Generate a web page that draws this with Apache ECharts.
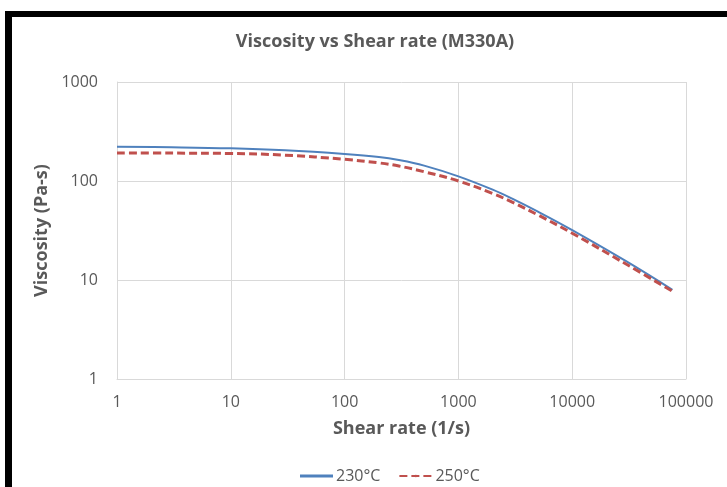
<!DOCTYPE html>
<html>
<head>
<meta charset="utf-8">
<script src="https://cdn.jsdelivr.net/npm/echarts@6/dist/echarts.min.js"></script>
<style>
	html, body { margin: 0; padding: 0; background: #fff; }
	#chart { width: 727px; height: 487px; }
</style>
</head>
<body>
<div id="chart"></div>
<script>
	/*数据*/
	var shearRate = [1, 3, 10, 30, 100, 200, 300, 500, 1000, 2000, 3000, 5000, 10000, 30000, 76000];
	var visc230 = [222, 219.3, 213.8, 204, 187.5, 175, 163, 143, 111.4, 81.7, 65.9, 49, 31.9, 15.4, 7.96];
	var visc250 = [192, 191.4, 189.7, 182.4, 165.6, 152.4, 141.6, 124, 100, 74.8, 60.8, 45.4, 29.7, 14.4, 7.7];
	var seriesNames = ['230°C', '250°C'];

	function pairs(xs, ys) {
		var out = [];
		for(var i = 0; i < xs.length; i++) {
			out.push([xs[i], ys[i]]);
		}
		return out;
	}

	var textColor = '#595959';
	var gridColor = '#d9d9d9';
	var fontFamily = '"Open Sans", "Noto Sans", sans-serif';

	var chart = echarts.init(document.getElementById('chart'));
	var option = {
		backgroundColor: '#fff',
		animation: false,
		title: {
			text: 'Viscosity vs Shear rate (M330A)',
			left: 370,
			textAlign: 'center',
			top: 28,
			textStyle: {
				color: textColor,
				fontSize: 18,
				fontWeight: 'bold',
				fontFamily: fontFamily
			}
		},
		legend: {
			top: 463,
			left: 295,
			itemWidth: 33,
			itemHeight: 3,
			itemGap: 18,
			textStyle: {
				color: textColor,
				fontSize: 16,
				fontFamily: fontFamily,
				padding: [0, 0, 0, -2]
			},
			data: [{ name: seriesNames[0], icon: 'rect' }, { name: seriesNames[1] }]
		},
		grid: {
			left: 117,
			right: 41,
			top: 82,
			bottom: 108
		},
		xAxis: {
			type: 'log',
			logBase: 10,
			min: 1,
			max: 100000,
			name: 'Shear rate (1/s)',
			nameLocation: 'middle',
			nameGap: 41,
			nameTextStyle: {
				color: textColor,
				fontSize: 18,
				fontWeight: 'bold',
				fontFamily: fontFamily
			},
			axisLine: { lineStyle: { color: gridColor } },
			axisTick: { show: false },
			axisLabel: {
				color: textColor,
				fontSize: 16,
				fontFamily: fontFamily,
				margin: 15,
				formatter: function(v) { return String(v); }
			},
			splitLine: { show: true, lineStyle: { color: gridColor } }
		},
		yAxis: {
			type: 'log',
			logBase: 10,
			min: 1,
			max: 1000,
			name: 'Viscosity (Pa-s)',
			nameLocation: 'middle',
			nameGap: 62,
			nameTextStyle: {
				color: textColor,
				fontSize: 18,
				fontWeight: 'bold',
				fontFamily: fontFamily
			},
			axisLine: { show: true, lineStyle: { color: gridColor } },
			axisTick: { show: false },
			axisLabel: {
				color: textColor,
				fontSize: 16,
				fontFamily: fontFamily,
				margin: 19,
				formatter: function(v) { return String(v); }
			},
			splitLine: { show: true, lineStyle: { color: gridColor } }
		},
		series: [{
			name: seriesNames[0],
			type: 'line',
			smooth: 0.4,
			showSymbol: false,
			symbol: 'none',
			lineStyle: { color: '#4f81bd', width: 2 },
			itemStyle: { color: '#4f81bd' },
			data: pairs(shearRate, visc230)
		}, {
			name: seriesNames[1],
			type: 'line',
			smooth: 0.4,
			showSymbol: false,
			symbol: 'none',
			lineStyle: { color: '#c0504d', width: 3, type: [8, 4] },
			itemStyle: { color: '#c0504d' },
			data: pairs(shearRate, visc250)
		}],
		graphic: [{
			type: 'rect',
			shape: { x: 5, y: 11, width: 7, height: 480 },
			style: { fill: '#000' }
		}, {
			type: 'rect',
			shape: { x: 5, y: 11, width: 730, height: 6 },
			style: { fill: '#000' }
		}]
	};
	chart.setOption(option);
</script>
</body>
</html>
